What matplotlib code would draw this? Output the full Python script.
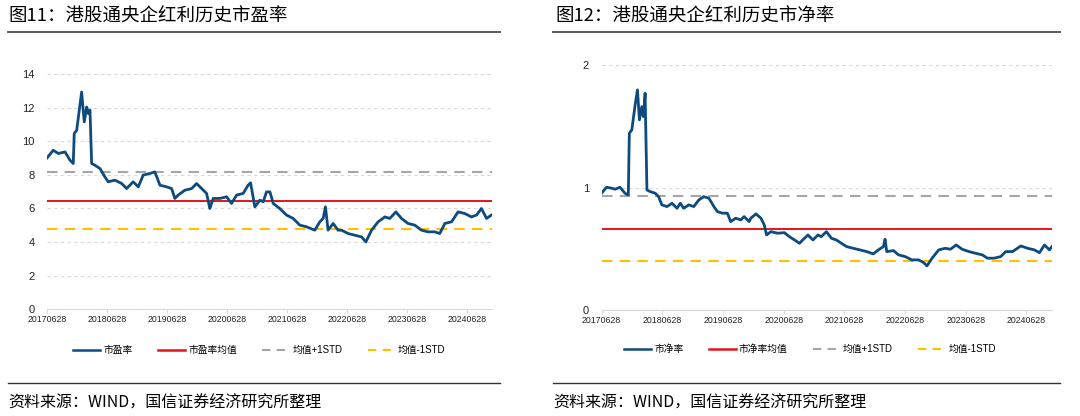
import matplotlib
matplotlib.use('Agg')
import matplotlib.pyplot as plt
import matplotlib.dates as mdates
import pandas as pd
from matplotlib.lines import Line2D

plt.rcParams['font.family'] = ['Liberation Sans', 'Noto Sans CJK SC', 'DejaVu Sans']

# 市盈率 readings
pe_dates = ['2017-06-28', '2017-08-05', '2017-09-05', '2017-10-16', '2017-11-15', '2017-12-05',
            '2017-12-11', '2017-12-26', '2018-01-25', '2018-02-10', '2018-02-25', '2018-03-06',
            '2018-03-17', '2018-03-27', '2018-04-16', '2018-05-17', '2018-06-16', '2018-07-06',
            '2018-08-16', '2018-09-26', '2018-10-26', '2018-12-05', '2019-01-05', '2019-02-04',
            '2019-03-17', '2019-04-16', '2019-05-17', '2019-06-27', '2019-07-27', '2019-08-16',
            '2019-09-05', '2019-10-16', '2019-11-26', '2019-12-26', '2020-01-26', '2020-02-25',
            '2020-03-16', '2020-04-05', '2020-05-16', '2020-06-26', '2020-07-26', '2020-08-26',
            '2020-10-05', '2020-11-04', '2020-11-19', '2020-12-15', '2021-01-15', '2021-02-04',
            '2021-02-24', '2021-03-17', '2021-04-06', '2021-05-16', '2021-06-26', '2021-08-05',
            '2021-09-15', '2021-10-26', '2021-12-15', '2022-01-15', '2022-02-04', '2022-02-18',
            '2022-03-06', '2022-04-06', '2022-05-06', '2022-05-27', '2022-07-06', '2022-08-16',
            '2022-09-26', '2022-10-22', '2022-11-26', '2023-01-05', '2023-02-15', '2023-03-17',
            '2023-04-23', '2023-05-27', '2023-07-06', '2023-08-16', '2023-09-26', '2023-11-05',
            '2023-12-16', '2024-01-15', '2024-02-15', '2024-03-27', '2024-05-06', '2024-06-16',
            '2024-07-26', '2024-08-26', '2024-09-25', '2024-10-26', '2024-11-25']
pe_values = [9.0, 9.46, 9.27, 9.36, 8.87, 8.67,
             10.46, 10.65, 12.93, 11.15, 12.04, 11.65,
             11.85, 8.67, 8.57, 8.37, 7.87, 7.58,
             7.68, 7.48, 7.18, 7.58, 7.28, 7.98,
             8.08, 8.17, 7.38, 7.28, 7.18, 6.59,
             6.79, 7.08, 7.18, 7.48, 7.18, 6.89,
             5.99, 6.59, 6.59, 6.69, 6.29, 6.79,
             6.89, 7.38, 7.52, 6.09, 6.49, 6.39,
             6.98, 6.98, 6.29, 5.99, 5.60, 5.40,
             5.00, 4.90, 4.70, 5.20, 5.40, 6.09,
             4.70, 5.10, 4.70, 4.70, 4.50, 4.40,
             4.30, 4.00, 4.70, 5.20, 5.49, 5.40,
             5.79, 5.40, 5.10, 5.00, 4.70, 4.60,
             4.60, 4.50, 5.10, 5.20, 5.79, 5.69,
             5.49, 5.60, 5.99, 5.40, 5.60]
pe_mean, pe_up, pe_dn = 6.45, 8.15, 4.75

# 市净率 readings
pb_dates = ['2017-06-28', '2017-07-28', '2017-08-28', '2017-09-17', '2017-10-17', '2017-11-16',
            '2017-12-06', '2017-12-12', '2017-12-27', '2018-01-16', '2018-01-30', '2018-02-11',
            '2018-02-25', '2018-03-07', '2018-03-17', '2018-03-28', '2018-04-17', '2018-05-17',
            '2018-06-06', '2018-06-26', '2018-07-27', '2018-08-26', '2018-09-25', '2018-10-15',
            '2018-11-04', '2018-12-05', '2019-01-04', '2019-02-03', '2019-03-05', '2019-04-05',
            '2019-05-05', '2019-05-26', '2019-06-25', '2019-07-25', '2019-08-14', '2019-09-13',
            '2019-10-14', '2019-11-03', '2019-12-03', '2019-12-13', '2020-01-13', '2020-02-12',
            '2020-03-03', '2020-03-17', '2020-04-12', '2020-05-23', '2020-07-02', '2020-08-01',
            '2020-09-01', '2020-10-01', '2020-10-31', '2020-11-21', '2020-12-21', '2021-01-20',
            '2021-02-09', '2021-03-12', '2021-04-11', '2021-05-11', '2021-06-10', '2021-07-11',
            '2021-08-20', '2021-09-29', '2021-11-09', '2021-12-19', '2022-01-19', '2022-02-18',
            '2022-02-28', '2022-03-10', '2022-04-20', '2022-05-20', '2022-06-29', '2022-08-08',
            '2022-09-18', '2022-10-18', '2022-11-07', '2022-12-08', '2023-01-17', '2023-02-26',
            '2023-03-28', '2023-05-02', '2023-06-07', '2023-07-18', '2023-08-27', '2023-10-06',
            '2023-11-06', '2023-12-16', '2024-01-25', '2024-02-24', '2024-04-05', '2024-05-25',
            '2024-07-05', '2024-08-14', '2024-09-14', '2024-10-14', '2024-11-13', '2024-11-28']
pb_values = [0.954, 1.003, 0.995, 0.987, 1.003, 0.954,
             0.940, 1.445, 1.472, 1.676, 1.799, 1.554,
             1.662, 1.581, 1.772, 0.981, 0.967, 0.954,
             0.926, 0.859, 0.845, 0.872, 0.831, 0.872,
             0.831, 0.859, 0.845, 0.899, 0.926, 0.913,
             0.845, 0.804, 0.791, 0.791, 0.722, 0.750,
             0.736, 0.763, 0.722, 0.750, 0.785, 0.750,
             0.695, 0.613, 0.640, 0.627, 0.632, 0.599,
             0.572, 0.545, 0.586, 0.613, 0.572, 0.613,
             0.599, 0.640, 0.586, 0.572, 0.545, 0.518,
             0.504, 0.491, 0.477, 0.458, 0.491, 0.518,
             0.578, 0.477, 0.485, 0.450, 0.436, 0.409,
             0.409, 0.387, 0.360, 0.423, 0.491, 0.504,
             0.496, 0.531, 0.496, 0.477, 0.463, 0.450,
             0.423, 0.423, 0.436, 0.477, 0.477, 0.523,
             0.504, 0.491, 0.468, 0.531, 0.491, 0.518]
pb_mean, pb_up, pb_dn = 0.665, 0.93, 0.398

xtick_labels = ['20170628', '20180628', '20190628', '20200628',
                '20210628', '20220628', '20230628', '20240628']

BLUE = '#0d4a7e'
RED = '#e3141e'
GREY = '#a6a6a6'
YELLOW = '#ffc000'

fig = plt.figure(figsize=(10.8, 4.16), dpi=100)


def draw_panel(ax, dates, values, mean, up, dn, yticks, ylim, name):
    x = pd.to_datetime(dates)
    start = pd.Timestamp('2017-06-28')
    end = pd.Timestamp('2024-11-28')
    ax.plot(x, values, color=BLUE, linewidth=2.0, zorder=5)
    ax.plot([start, end], [mean, mean], color=RED, linewidth=1.4, zorder=4)
    ax.plot([start, end], [up, up], color=GREY, linewidth=1.5, dashes=(5, 3.5), zorder=4)
    ax.plot([start, end], [dn, dn], color=YELLOW, linewidth=1.5, dashes=(5, 3.5), zorder=4)
    ax.set_xlim(start, end)
    ax.set_ylim(*ylim)
    ax.set_yticks(yticks)
    ax.set_xticks(pd.to_datetime(xtick_labels, format='%Y%m%d'))
    ax.xaxis.set_major_formatter(mdates.DateFormatter('%Y%m%d'))
    ax.grid(axis='y', color='#d9d9d9', linestyle=(0, (3, 3)), linewidth=0.8)
    ax.set_axisbelow(True)
    for s in ['top', 'right', 'left']:
        ax.spines[s].set_visible(False)
    ax.spines['bottom'].set_color('#d9d9d9')
    ax.tick_params(axis='y', length=0, pad=9, labelsize=8, labelcolor='#222222')
    ax.tick_params(axis='x', length=3, color='#d9d9d9', pad=1.5, labelsize=6.3, labelcolor='#222222')
    handles = [Line2D([], [], color=BLUE, linewidth=1.8),
               Line2D([], [], color=RED, linewidth=1.8),
               Line2D([], [], color=GREY, linewidth=1.5, dashes=(4, 3)),
               Line2D([], [], color=YELLOW, linewidth=1.5, dashes=(4, 3))]
    labels = [name, name + '均值', '均值+1STD', '均值-1STD']
    return handles, labels


ax1 = fig.add_axes([0.0435, 0.257, 0.412, 0.565])
h1, l1 = draw_panel(ax1, pe_dates, pe_values, pe_mean, pe_up, pe_dn,
                    [0, 2, 4, 6, 8, 10, 12, 14], (0, 14), '市盈率')
ax2 = fig.add_axes([0.557, 0.255, 0.417, 0.588])
h2, l2 = draw_panel(ax2, pb_dates, pb_values, pb_mean, pb_up, pb_dn,
                    [0, 1, 2], (0, 2), '市净率')

fig.legend(h1, l1, loc='center', bbox_to_anchor=(0.240, 1 - 350 / 416), ncol=4,
           frameon=False, fontsize=7, handlelength=2.8, columnspacing=2.6, handletextpad=0.3)
fig.legend(h2, l2, loc='center', bbox_to_anchor=(0.750, 1 - 349 / 416), ncol=4,
           frameon=False, fontsize=7, handlelength=2.8, columnspacing=2.6, handletextpad=0.3)

# titles, rules and source notes
title_font = ['Noto Sans CJK SC', 'DejaVu Sans']
fig.text(8 / 1080, 1 - 17 / 416, '图11：港股通央企红利历史市盈率', fontsize=13.3, va='center', ha='left',
         family=title_font, weight='medium')
fig.text(555 / 1080, 1 - 17 / 416, '图12：港股通央企红利历史市净率', fontsize=13.3, va='center', ha='left',
         family=title_font, weight='medium')
for x0, x1 in [(8, 500), (553, 1060)]:
    fig.add_artist(Line2D([x0 / 1080, x1 / 1080], [1 - 32 / 416] * 2, color='#595959', linewidth=1.4))
    fig.add_artist(Line2D([x0 / 1080, x1 / 1080], [1 - 383 / 416] * 2, color='#333333', linewidth=1.0))
fig.text(8 / 1080, 1 - 403 / 416, '资料来源：WIND，国信证券经济研究所整理', fontsize=11.5, va='center',
         ha='left', family=title_font)
fig.text(553 / 1080, 1 - 403 / 416, '资料来源：WIND，国信证券经济研究所整理', fontsize=11.5, va='center',
         ha='left', family=title_font)

fig.savefig('out.png', dpi=100)
